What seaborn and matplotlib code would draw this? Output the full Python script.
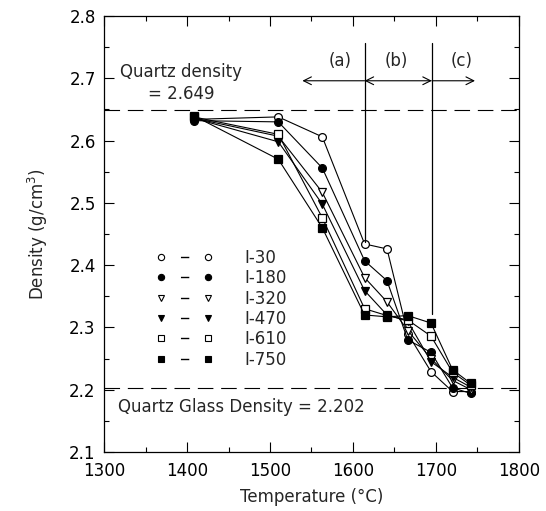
import matplotlib
matplotlib.use("Agg")
import matplotlib.pyplot as plt
import seaborn as sns
import pandas as pd
from matplotlib.lines import Line2D

# ---- data ----
temps = [1408, 1510, 1563, 1614, 1641, 1666, 1694, 1720, 1742]
series_names = ["I-30", "I-180", "I-320", "I-470", "I-610", "I-750"]
d_i30  = [2.634, 2.638, 2.606, 2.434, 2.426, 2.290, 2.229, 2.197, 2.197]
d_i180 = [2.632, 2.630, 2.556, 2.407, 2.375, 2.280, 2.260, 2.203, 2.194]
d_i320 = [2.636, 2.607, 2.517, 2.380, 2.341, 2.295, 2.250, 2.215, 2.200]
d_i470 = [2.636, 2.598, 2.498, 2.359, 2.320, 2.310, 2.245, 2.220, 2.204]
d_i610 = [2.638, 2.610, 2.476, 2.330, 2.319, 2.312, 2.286, 2.228, 2.207]
d_i750 = [2.640, 2.570, 2.460, 2.320, 2.317, 2.319, 2.307, 2.232, 2.210]
densities = [d_i30, d_i180, d_i320, d_i470, d_i610, d_i750]

quartz_density = 2.649
glass_density = 2.202
region_bounds = [1614, 1695]
region_arrow_left = 1539
region_arrow_right = 1747
region_labels = ["(a)", "(b)", "(c)"]

markers = ["o", "o", "v", "v", "s", "s"]
filled = [False, True, False, True, False, True]

rows = []
for name, vals in zip(series_names, densities):
    for t, v in zip(temps, vals):
        rows.append({"Temperature": t, "Density": v, "Series": name})
df = pd.DataFrame(rows)

sns.set_style("ticks")
plt.rcParams["font.family"] = ["DejaVu Sans"]

fig = plt.figure(figsize=(5.46, 5.11), dpi=100)
ax = fig.add_axes([0.1905, 0.1155, 0.76, 0.8532])

for name, m, f in zip(series_names, markers, filled):
    sub = df[df["Series"] == name]
    sns.lineplot(data=sub, x="Temperature", y="Density", ax=ax, sort=False,
                 estimator=None, color="black", lw=0.8, marker=m, markersize=5.6,
                 markerfacecolor="black" if f else "white", markeredgecolor="black",
                 markeredgewidth=0.9, legend=False)

# reference lines
dash = (0, (14, 7))
ax.axhline(quartz_density, color="black", lw=0.8, linestyle=dash, zorder=0)
ax.axhline(glass_density, color="black", lw=0.8, linestyle=dash, zorder=0)

# region boundaries
ax.plot([region_bounds[0]] * 2, [2.757, 2.437], color="black", lw=0.9)
ax.plot([region_bounds[1]] * 2, [2.757, 2.322], color="black", lw=0.9)

ya = 2.696
ap = dict(arrowstyle="->", color="black", lw=0.8, mutation_scale=14, shrinkA=0, shrinkB=0)
ax.annotate("", xy=(region_arrow_left, ya), xytext=(region_bounds[0], ya), arrowprops=ap)
ap2 = dict(ap, arrowstyle="<->")
ax.annotate("", xy=(region_bounds[1], ya), xytext=(region_bounds[0], ya), arrowprops=ap2)
ax.annotate("", xy=(region_arrow_right, ya), xytext=(region_bounds[1], ya), arrowprops=ap)
fs = 12
ax.text(1584, 2.727, region_labels[0], ha="center", va="center", fontsize=fs)
ax.text(1652, 2.727, region_labels[1], ha="center", va="center", fontsize=fs)
ax.text(1731, 2.727, region_labels[2], ha="center", va="center", fontsize=fs)

ax.text(1393, 2.692, "Quartz density\n= 2.649", ha="center", va="center",
        fontsize=fs, linespacing=1.3)
ax.text(1317, 2.172, "Quartz Glass Density = 2.202", ha="left", va="center", fontsize=fs)

# legend
handles = []
for name, m, f in zip(series_names, markers, filled):
    handles.append(Line2D([], [], color="black", lw=1.0, marker=m, markersize=4.5,
                          markerfacecolor="black" if f else "white",
                          markeredgecolor="black", markeredgewidth=0.8,
                          linestyle=(0, (0.01, 14, 6, 60)), label=name))
leg = ax.legend(handles=handles, loc="upper left", bbox_to_anchor=(0.09, 0.50),
                frameon=False, numpoints=2, handlelength=3.4, handletextpad=1.9,
                labelspacing=0.14, fontsize=fs)

ax.set_xlim(1300, 1800)
ax.set_ylim(2.1, 2.8)
ax.set_xticks([1300, 1400, 1500, 1600, 1700, 1800])
ax.set_yticks([2.1, 2.2, 2.3, 2.4, 2.5, 2.6, 2.7, 2.8])
ax.set_xticks([1350, 1450, 1550, 1650, 1750], minor=True)
ax.set_yticks([2.15, 2.25, 2.35, 2.45, 2.55, 2.65, 2.75], minor=True)
ax.set_yticklabels(["2.1", "2.2", "2.3", "2.4", "2.5", "2.6", "2.7", "2.8"])
ax.tick_params(which="both", direction="in", top=True, right=True, labelsize=fs,
               width=0.8, colors="black")
ax.tick_params(which="major", length=7)
ax.tick_params(axis="x", which="major", pad=7)
ax.tick_params(axis="y", which="major", pad=6)
ax.tick_params(which="minor", length=3.5)
for s in ax.spines.values():
    s.set_linewidth(0.9)
    s.set_color("black")

ax.set_xlabel("Temperature (°C)", fontsize=fs, labelpad=6)
ax.set_ylabel("Density (g/cm$^3$)", fontsize=fs, labelpad=14)

fig.savefig("out.png", dpi=100)
